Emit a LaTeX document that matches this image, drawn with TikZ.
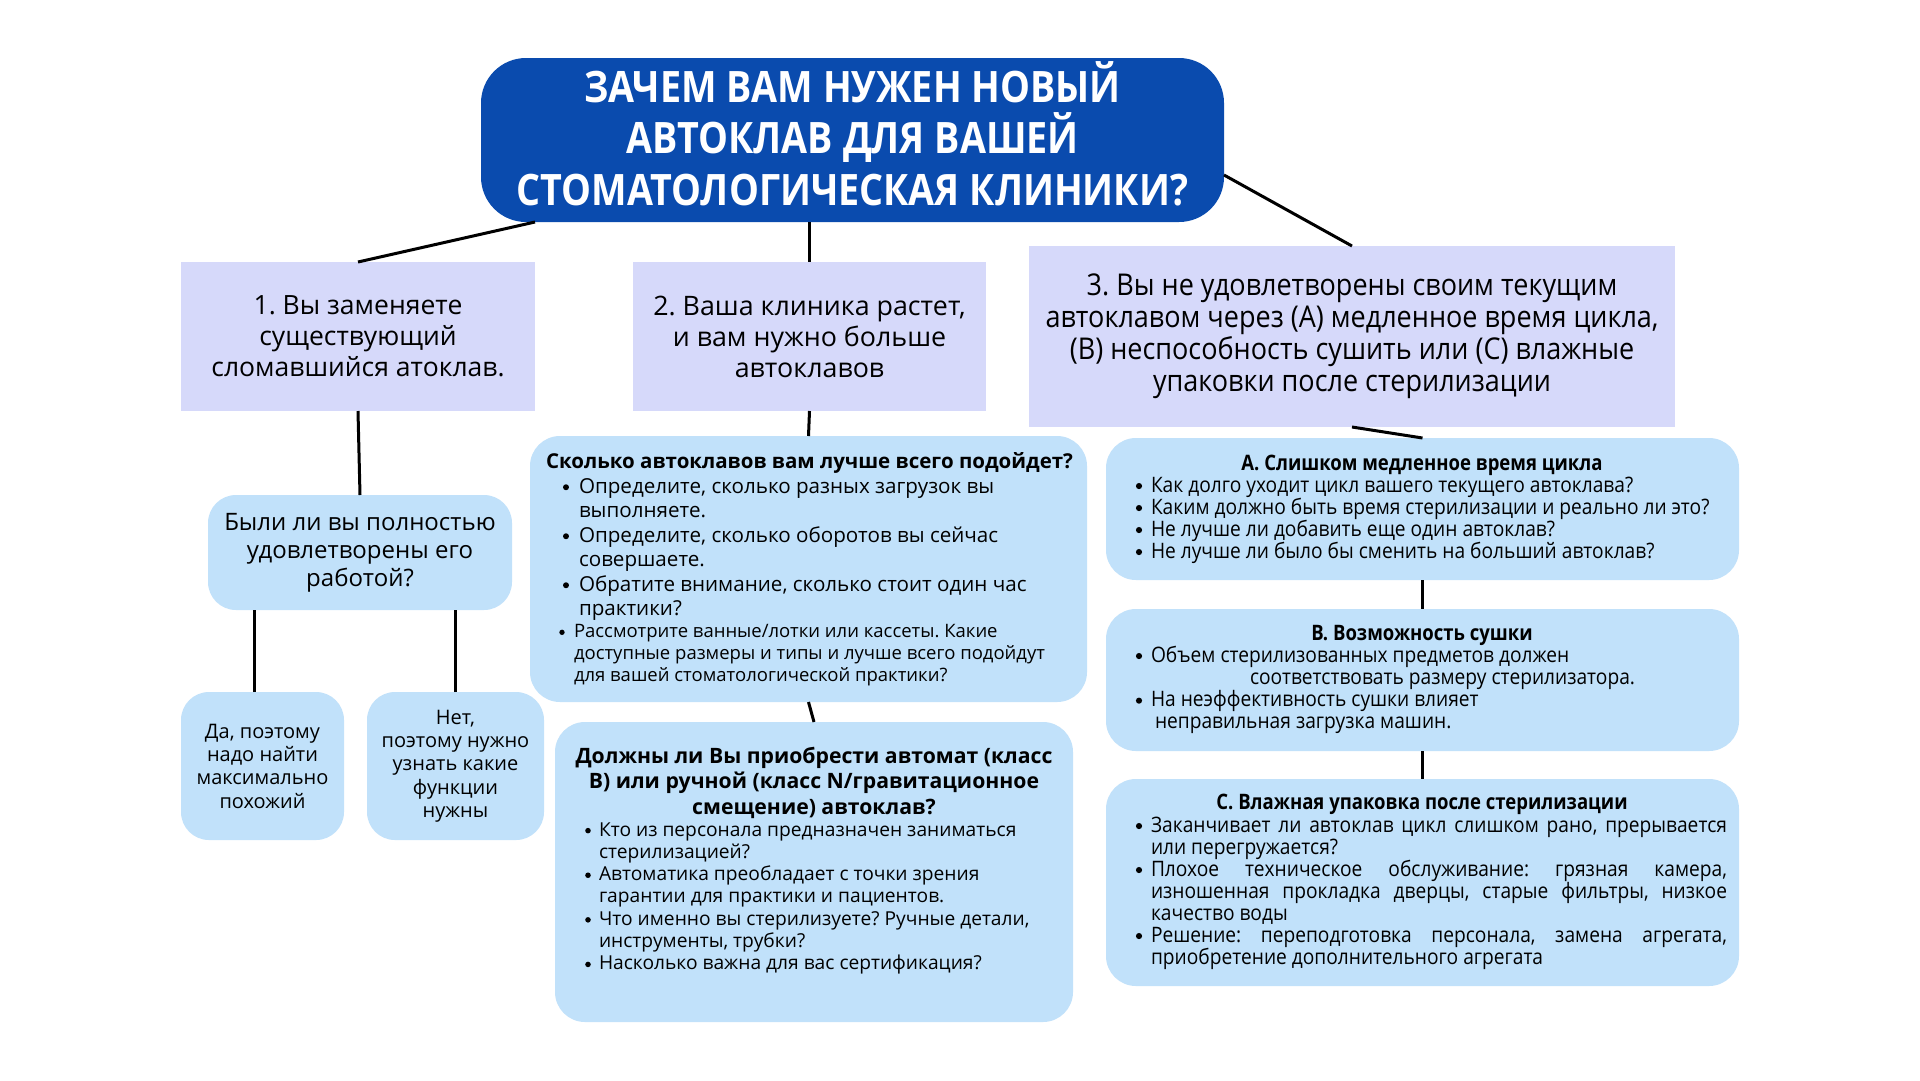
\documentclass[tikz,border=0pt]{standalone}
\usepackage{fontspec}
\setmainfont{Open Sans}
\newfontfamily\cond[FakeStretch=0.9]{Open Sans}
\newfontfamily\condb[FakeStretch=0.87]{Open Sans}
\usetikzlibrary{calc}
\frenchspacing
\definecolor{titleblue}{RGB}{10,75,174}
\definecolor{lav}{RGB}{214,217,250}
\definecolor{lblue}{RGB}{193,225,250}
\newcommand\fs[2]{\fontsize{#1}{#2}\selectfont}
\newcommand\bul{\tikz[baseline=0pt]\fill[black] (0pt,0.28em) circle[radius=0.145em];}
% bullet centred at #1, text starting #2 further right
\newcommand\bi[3]{\hspace*{#1}\makebox[0pt]{\bul}\hspace*{#2}#3\par}
\newcommand\ci[2]{\hspace*{#1}#2\par}
\newcommand\bx[7]{\node[#2, minimum width={#5-#3}, minimum height={#6-#4}] (#1) at ({(#3+#5)/2},{(#4+#6)/2}) {#7};}
\tikzset{
  every node/.style={inner sep=0pt, outer sep=0pt},
  titlebox/.style={fill=titleblue, rounded corners=45pt, text=white, align=center},
  lavbox/.style={fill=lav, align=center},
  bluebox/.style={fill=lblue, rounded corners=30pt, align=center},
  conn/.style={line width=3pt, black},
  txt/.style={anchor=base west},
  ctxt/.style={anchor=base}
}
\begin{document}
\begin{tikzpicture}[x=1pt,y=-1pt]
\fill[white] (0,0) rectangle (1920,1080);
\useasboundingbox (0,0) rectangle (1920,1080);

% boxes
\bx{title}{titlebox}{481}{58}{1224}{222}{}
\node[ctxt, text=white] (ttext) at (852.5,102) {\parbox[t]{740pt}{\centering\condb\bfseries\fs{43.3}{51.5}%
ЗАЧЕМ ВАМ НУЖЕН НОВЫЙ\par АВТОКЛАВ ДЛЯ ВАШЕЙ\par СТОМАТОЛОГИЧЕСКАЯ КЛИНИКИ?\par}};
\bx{b1}{lavbox, font={\fs{26.5}{31}}}{181}{262}{535}{411}{1. Вы заменяете\\существующий\\сломавшийся атоклав.}
\bx{b2}{lavbox, font={\fs{26.8}{31}}}{633}{262}{986}{411}{2. Ваша клиника растет,\\и вам нужно больше\\автоклавов}
\bx{b3}{lavbox, font={\cond\fs{30}{32}}}{1029}{246}{1675}{427}{3. Вы не удовлетворены своим текущим\\автоклавом через (А) медленное время цикла,\\(В) неспособность сушить или (С) влажные\\упаковки после стерилизации}
\bx{q1}{bluebox, rounded corners=28pt, font={\fs{24}{28}}}{208}{495}{512}{610}{Были ли вы полностью\\удовлетворены его\\работой?}
\bx{yes}{bluebox, rounded corners=28pt, font={\fs{20}{23.3}}}{181}{692}{344}{840}{Да, поэтому\\надо найти\\максимально\\похожий}
\bx{no}{bluebox, rounded corners=28pt, font={\fs{20}{23.3}}}{367}{692}{544}{840}{Нет,\\поэтому нужно\\узнать какие\\функции\\нужны}
\bx{s}{bluebox}{530}{436}{1087}{702}{}
\bx{d}{bluebox}{555}{722}{1073}{1022}{}
\bx{A}{bluebox}{1106}{438}{1739}{580}{}
\bx{B}{bluebox}{1106}{609}{1739}{751}{}
\bx{C}{bluebox}{1106}{779}{1739}{986}{}

% texts of the big boxes
\node[txt] (stext) at (546,468.5) {\parbox[t]{560pt}{\fs{20.6}{24.5}%
{\bfseries\fs{20.5}{24.5}Сколько автоклавов вам лучше всего подойдет?\par}
\bi{20pt}{13pt}{Определите, сколько разных загрузок вы}
\ci{33pt}{выполняете.}
\bi{20pt}{13pt}{Определите, сколько оборотов вы сейчас}
\ci{33pt}{совершаете.}
\bi{20pt}{13pt}{Обратите внимание, сколько стоит один час}
\ci{33pt}{практики?}
\fs{18.5}{22}%
\bi{16pt}{12pt}{Рассмотрите ванные/лотки или кассеты. Какие}
\ci{28pt}{доступные размеры и типы и лучше всего подойдут}
\ci{28pt}{для вашей стоматологической практики?}}};

\node[ctxt] (dtitle) at (814,763) {\parbox[t]{500pt}{\centering\bfseries\fs{21.2}{25.5}%
Должны ли Вы приобрести автомат (класс\par
В) или ручной (класс N/гравитационное\par
смещение) автоклав?\par}};
\node[txt] (dtext) at (578,836) {\parbox[t]{490pt}{\fs{19.2}{22.3}%
\bi{10pt}{11pt}{Кто из персонала предназначен заниматься}
\ci{21pt}{стерилизацией?}
\bi{10pt}{11pt}{Автоматика преобладает с точки зрения}
\ci{21pt}{гарантии для практики и пациентов.}
\bi{10pt}{11pt}{Что именно вы стерилизуете? Ручные детали,}
\ci{21pt}{инструменты, трубки?}
\bi{10pt}{11pt}{Насколько важна для вас сертификация?}}};

\node[ctxt, font={\condb\bfseries\fs{21.3}{22}}] (Atitle) at (1422,470) {А. Слишком медленное время цикла};
\node[txt] (Atext) at (1129,492) {\parbox[t]{610pt}{\cond\fs{21.3}{22}%
\bi{10pt}{12pt}{Как долго уходит цикл вашего текущего автоклава?}
\bi{10pt}{12pt}{Каким должно быть время стерилизации и реально ли это?}
\bi{10pt}{12pt}{Не лучше ли добавить еще один автоклав?}
\bi{10pt}{12pt}{Не лучше ли было бы сменить на больший автоклав?}}};

\node[ctxt, font={\condb\bfseries\fs{21.3}{22}}] (Btitle) at (1422,640) {В. Возможность сушки};
\node[txt] (Btext) at (1129,662) {\parbox[t]{610pt}{\cond\fs{21.3}{22.3}%
\bi{10pt}{12pt}{Объем стерилизованных предметов должен}
\ci{121pt}{соответствовать размеру стерилизатора.}
\bi{10pt}{12pt}{На неэффективность сушки влияет}
\ci{26pt}{неправильная загрузка машин.}}};

\node[ctxt, font={\condb\bfseries\fs{21.3}{22}}] (Ctitle) at (1422,809) {С. Влажная упаковка после стерилизации};
\node[txt] (Ctext) at (1129,832) {\parbox[t]{620pt}{\cond\fs{21.3}{22}%
\bi{10pt}{12pt}{\makebox[576pt][s]{Заканчивает ли автоклав цикл слишком рано, прерывается}}
\ci{22pt}{или перегружается?}
\bi{10pt}{12pt}{\makebox[576pt][s]{Плохое техническое обслуживание: грязная камера,}}
\ci{22pt}{\makebox[576pt][s]{изношенная прокладка дверцы, старые фильтры, низкое}}
\ci{22pt}{качество воды}
\bi{10pt}{12pt}{\makebox[576pt][s]{Решение: переподготовка персонала, замена агрегата,}}
\ci{22pt}{приобретение дополнительного агрегата}}};

% connectors
\draw[conn] ($(title.south west)+(54,0)$) -- (b1.north);
\draw[conn] (b2.north |- title.south) -- (b2.north);
\draw[conn] ($(title.east)+(0,35)$) -- (b3.north);
\draw[conn] (b1.south) -- (q1.north);
\draw[conn] ($(yes.north)+(-8,0)$) -- ($(yes.north |- q1.south)+(-8,0)$);
\draw[conn] (no.north) -- (no.north |- q1.south);
\draw[conn] (b2.south) -- (s.north);
\draw[conn] (s.south) -- (d.north);
\draw[conn] (b3.south) -- (A.north);
\draw[conn] (A.south) -- (B.north);
\draw[conn] (B.south) -- (C.north);
\end{tikzpicture}
\end{document}
